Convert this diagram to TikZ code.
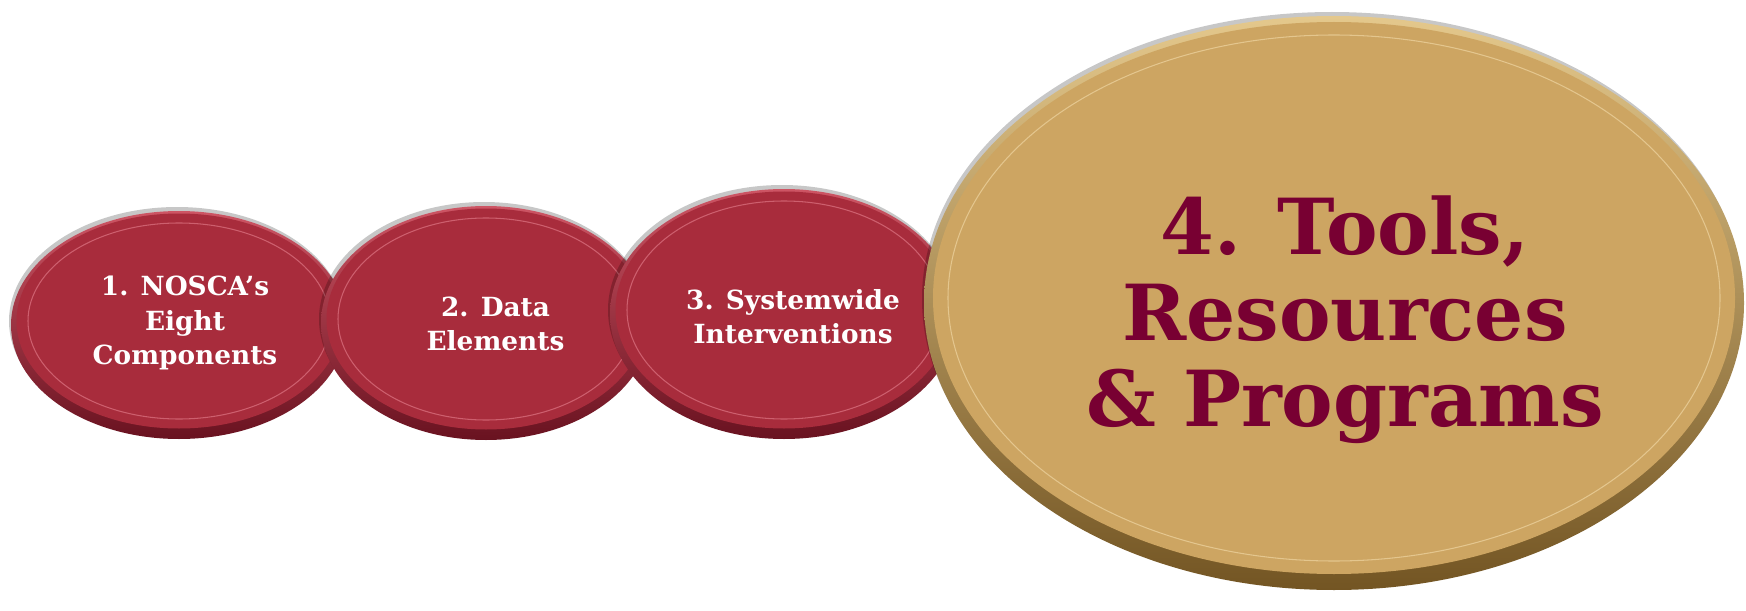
\documentclass[tikz,border=0pt]{standalone}
\usepackage{fontspec}
\setmainfont{DejaVu Serif}
\usetikzlibrary{shapes.geometric,shadows}

\definecolor{redface}{RGB}{168,44,60}
\definecolor{redrimtop}{RGB}{205,85,100}
\definecolor{redrimbot}{RGB}{105,18,32}
\definecolor{redring}{RGB}{205,95,110}
\definecolor{goldface}{RGB}{205,165,98}
\definecolor{goldrimtop}{RGB}{228,200,140}
\definecolor{goldrimbot}{RGB}{115,85,35}
\definecolor{goldring}{RGB}{228,198,142}
\definecolor{maroon}{RGB}{120,0,50}

\begin{document}
\begin{tikzpicture}[inner sep=0pt,
  rim/.style = {ellipse, top color=#1top, bottom color=#1bot,
    drop shadow={shadow xshift=-0.04cm, shadow yshift=0.08cm, fill=black, opacity=0.22}},
  face/.style = {ellipse, fill=#1},
  ring/.style = {draw=#1, line width=0.6pt},
  small/.style = {align=center, text=white, font=\bfseries\fontsize{15}{19.5}\selectfont},
  big/.style = {align=center, text=maroon, font=\bfseries\fontsize{44}{49}\selectfont}]
\useasboundingbox[fill=white] (0,0) rectangle (34.92,12.20);

% 1
\node[rim=redrim, minimum width=6.72cm, minimum height=4.56cm] (e1) at (3.58,5.70) {};
\node[face=redface, minimum width=6.50cm, minimum height=4.30cm] (f1) at (3.58,5.78) {};
\draw[ring=redring] (f1) ellipse [x radius=3.02cm, y radius=1.96cm];
\node[small] (t1) at (3.70,5.74) {1. NOSCA’s\\Eight\\Components};

% 2
\node[rim=redrim, minimum width=6.60cm, minimum height=4.68cm] (e2) at (9.72,5.74) {};
\node[face=redface, minimum width=6.38cm, minimum height=4.42cm] (f2) at (9.72,5.82) {};
\draw[ring=redring] (f2) ellipse [x radius=2.96cm, y radius=2.02cm];
\node[small] (t2) at (9.91,5.72) {2. Data\\Elements};

% 3
\node[rim=redrim, minimum width=6.96cm, minimum height=5.00cm] (e3) at (15.68,5.92) {};
\node[face=redface, minimum width=6.74cm, minimum height=4.74cm] (f3) at (15.68,6.00) {};
\draw[ring=redring] (f3) ellipse [x radius=3.14cm, y radius=2.18cm];
\node[small] (t3) at (15.86,5.86) {3. Systemwide\\Interventions};

% 4
\node[rim=goldrim, minimum width=16.40cm, minimum height=11.48cm] (e4) at (26.68,6.14) {};
\node[face=goldface, minimum width=16.04cm, minimum height=11.04cm] (f4) at (26.68,6.24) {};
\draw[ring=goldring] (f4) ellipse [x radius=7.72cm, y radius=5.26cm];
\node[big] (t4) at (26.90,5.80) {4. Tools,\\Resources\\\& Programs};
\end{tikzpicture}
\end{document}
